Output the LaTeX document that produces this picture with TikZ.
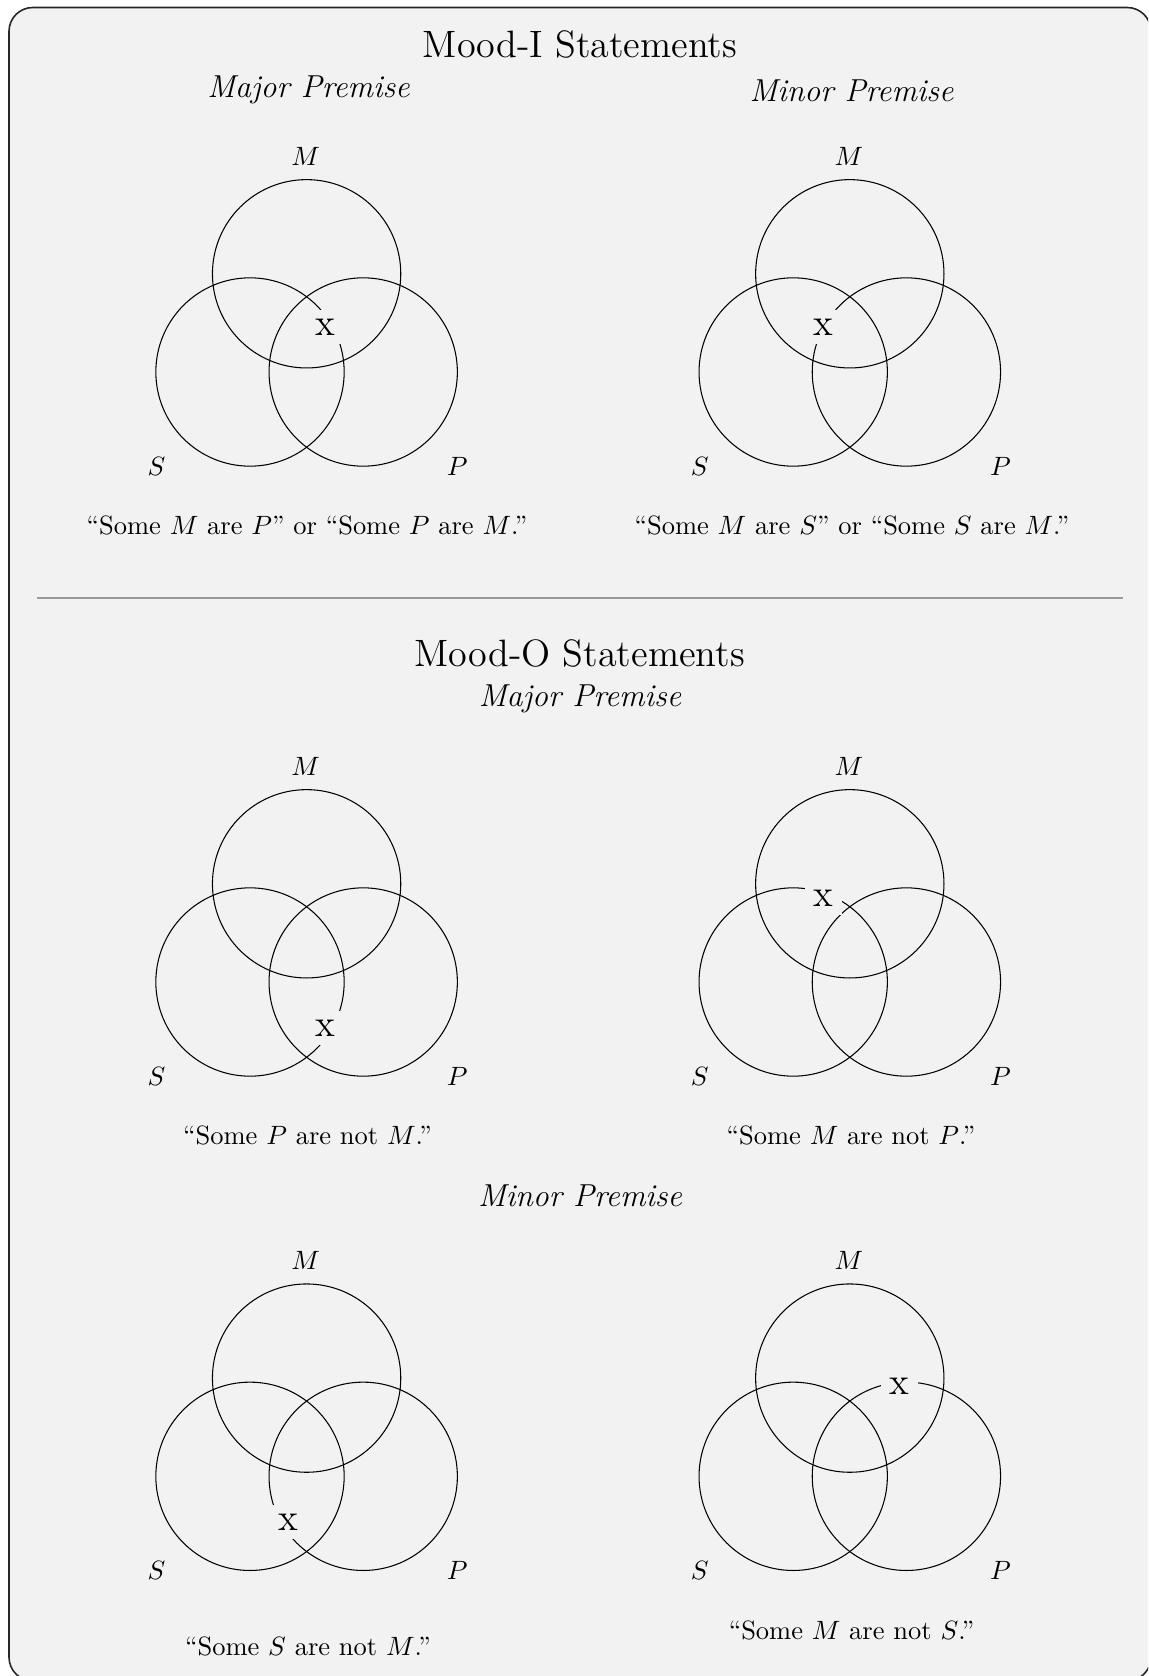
\documentclass[tikz,border=0pt]{standalone}
\begin{document}
\begin{tikzpicture}[x=0.3777pt,y=-0.3777pt,
  panel/.style={draw=black!85, line width=0.6pt, fill=black!5, rounded corners=9pt},
  venncirc/.style={draw=black, line width=0.4pt},
  title/.style={font=\Large},
  premise/.style={font=\large\itshape},
  setlabel/.style={inner sep=0pt},
  caption/.style={},
  xmark/.style={fill=black!5},
  divider/.style={draw=black!40, line width=0.5pt}]

% background panel
\begin{scope}
\clip (0,0) rectangle (1148,1676);
\draw[panel] (9,7.5) rectangle (1151,1681);
\end{scope}

% Venn macro: #1 name, #2 x of M centre, #3 y of M centre
\newcommand\myvenn[3]{%
  \coordinate (#1-m) at (#2,#3);
  \coordinate (#1-s) at (#2-56.6,#3+98.2);
  \coordinate (#1-p) at (#2+56.6,#3+98.2);
  \draw[venncirc] (#1-m) circle[radius=1.25cm];
  \draw[venncirc] (#1-s) circle[radius=1.25cm];
  \draw[venncirc] (#1-p) circle[radius=1.25cm];
  \node[setlabel] (#1-ml) at (#2-1,#3-117.5) {$M$};
  \node[setlabel] (#1-sl) at (#2-56.6-93.5,#3+98.2+94) {$S$};
  \node[setlabel] (#1-pl) at (#2+56.6+94,#3+98.2+94) {$P$};
}

% titles
\node[title] (t1) at (580,44.6) {Mood-I Statements};
\node[premise] (p1) at (308.5,90) {Major Premise};
\node[premise] (p2) at (851.5,90.5) {Minor Premise};

\myvenn{A}{306.6}{273.8}
\myvenn{B}{849.8}{273.8}
\node[xmark] (A-x) at (325.2,327.1) {\Large x};
\node[xmark] (B-x) at (823.4,327.1) {\Large x};
\node[caption] (A-c) at (307,525) {``Some $M$ are $P$'' or ``Some $P$ are $M$.''};
\node[caption] (B-c) at (852,525) {``Some $M$ are $S$'' or ``Some $S$ are $M$.''};

% divider
\coordinate (d1) at (36.6,598);
\coordinate (d2) at (1123,598);
\draw[divider] (d1) -- (d2);

\node[title] (t2) at (579.7,653.5) {Mood-O Statements};
\node[premise] (p3) at (580,698.5) {Major Premise};

\myvenn{C}{306.6}{883.8}
\myvenn{D}{849.8}{883.8}
\node[xmark] (C-x) at (325.2,1027.9) {\Large x};
\node[xmark] (D-x) at (823.8,898.3) {\Large x};
\node[caption] (C-c) at (307.5,1135) {``Some $P$ are not $M$.''};
\node[caption] (D-c) at (851,1135) {``Some $M$ are not $P$.''};

\node[premise] (p4) at (580,1196) {Minor Premise};

\myvenn{E}{306.6}{1378.1}
\myvenn{F}{849.8}{1378.1}
\node[xmark] (E-x) at (288.2,1522.4) {\Large x};
\node[xmark] (F-x) at (899.2,1385.8) {\Large x};
\node[caption] (E-c) at (308,1646.5) {``Some $S$ are not $M$.''};
\node[caption] (F-c) at (851.6,1630) {``Some $M$ are not $S$.''};

\pgfresetboundingbox
\useasboundingbox (0,0) rectangle (1148,1676);
\end{tikzpicture}
\end{document}
